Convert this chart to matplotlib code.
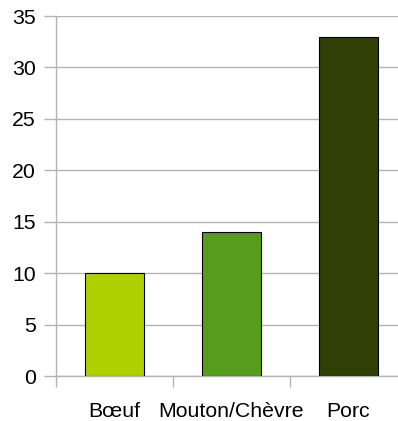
import matplotlib.pyplot as plt

categories = ['Bœuf', 'Mouton/Chèvre', 'Porc']
values = [10, 14, 33]
colors = ['#aecf00', '#579d1c', '#314004']

plt.rcParams['font.family'] = ['Liberation Sans', 'DejaVu Sans']

fig = plt.figure(figsize=(3.98, 4.21), dpi=100)
# axes runs past the right edge of the figure, as in the original
ax = fig.add_axes([56 / 398, 45 / 421, 351 / 398, 360 / 421])

x = range(len(categories))
ax.bar(x, values, width=0.5, color=colors, edgecolor='black', linewidth=0.8, zorder=3)

ax.set_xlim(-0.5, 2.5)
ax.set_ylim(0, 35)
ax.set_yticks(range(0, 36, 5))
ax.yaxis.grid(True, color='#b3b3b3', linewidth=1, zorder=0)

ax.set_xticks(list(x))
ax.set_xticklabels(categories)
ax.set_xticks([-0.5, 0.5, 1.5, 2.5], minor=True)
ax.tick_params(axis='x', which='major', length=0, pad=18.5, labelsize=15.3)
ax.tick_params(axis='x', which='minor', length=8, color='#b3b3b3', width=1)
ax.tick_params(axis='y', length=8.5, color='#b3b3b3', width=1, pad=6, labelsize=15.3)

for side in ['top', 'right']:
    ax.spines[side].set_visible(False)
for side in ['left', 'bottom']:
    ax.spines[side].set_color('#b3b3b3')
    ax.spines[side].set_linewidth(1)

fig.savefig('out.png', dpi=100)
